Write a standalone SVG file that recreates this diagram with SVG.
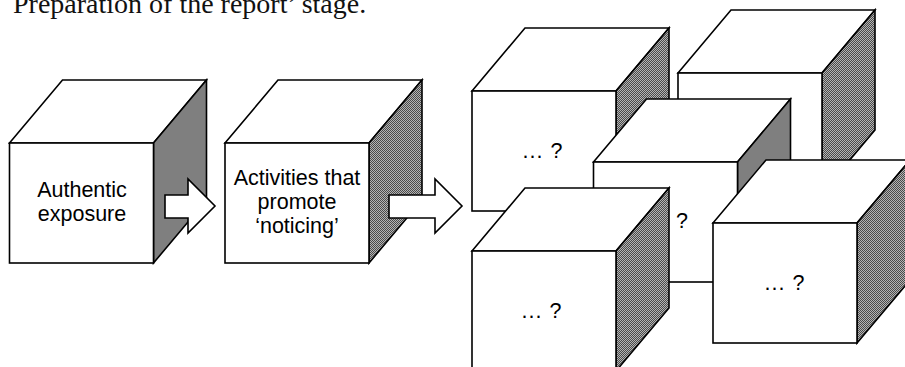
<svg xmlns="http://www.w3.org/2000/svg" xmlns:xlink="http://www.w3.org/1999/xlink" width="905" height="367" viewBox="0 0 905 367">
  <style>
    .edge { stroke: #000; stroke-width: 1.6; stroke-linejoin: miter; }
    .face { fill: #fff; }
    .shade { fill: url(#dither); }
    .lbl { font-family: "Liberation Sans", Arial, sans-serif; font-size: 21.5px; fill: #000; text-anchor: middle; }
    .q { letter-spacing: 1px; }
    .title { font-family: "Liberation Serif", "Times New Roman", serif; font-size: 28px; fill: #111; }
    .arrow { fill: #fff; stroke: #000; stroke-width: 1.6; stroke-linejoin: miter; }
  </style>
  <defs>
    <pattern id="dither" width="2" height="2" patternUnits="userSpaceOnUse">
      <rect width="2" height="2" fill="#b4b4b4"/>
      <rect width="1" height="1" fill="#4a4a4a"/>
      <rect x="1" y="1" width="1" height="1" fill="#4a4a4a"/>
    </pattern>
    <g id="cube">
      <path class="face edge" d="M0,0 L53,-63 L197,-63 L144,0 Z"/>
      <path class="shade edge" d="M144,0 L197,-63 L197,57 L144,120 Z"/>
      <rect class="face edge" x="0" y="0" width="144" height="120"/>
    </g>
  </defs>
  <rect width="905" height="367" fill="#fff"/>

  <text class="title" x="13" y="12.5">Preparation of the report’ stage.</text>

  <g id="node-authentic">
    <use xlink:href="#cube" href="#cube" x="9.5" y="143"/>
    <text class="lbl" x="82" y="197">Authentic</text>
    <text class="lbl" x="82" y="221">exposure</text>
  </g>

  <g id="node-noticing">
    <use xlink:href="#cube" href="#cube" x="225" y="143"/>
    <text class="lbl" x="297" y="185">Activities that</text>
    <text class="lbl" x="297" y="209">promote</text>
    <text class="lbl" x="297" y="233">‘noticing’</text>
  </g>

  <g id="connectors">
    <path class="arrow" d="M165,195 L188,195 L188,179 L215,206 L188,233 L188,218 L165,218 Z"/>
    <path class="arrow" d="M389,195 L435,195 L435,179 L462,206 L435,233 L435,218 L389,218 Z"/>
  </g>

  <g id="node-q-back">
    <use xlink:href="#cube" href="#cube" x="678" y="73"/>
  </g>

  <g id="node-q-topleft">
    <use xlink:href="#cube" href="#cube" x="472" y="91"/>
    <text class="lbl q" x="543" y="158">... ?</text>
  </g>

  <g id="node-q-middle">
    <use xlink:href="#cube" href="#cube" x="593.5" y="162"/>
    <text class="lbl" x="682" y="228">?</text>
  </g>

  <g id="node-q-bottomleft">
    <use xlink:href="#cube" href="#cube" x="472" y="251"/>
    <text class="lbl q" x="542" y="318">... ?</text>
  </g>

  <g id="node-q-right">
    <use xlink:href="#cube" href="#cube" x="713" y="223"/>
    <text class="lbl q" x="785" y="290">... ?</text>
  </g>
</svg>
